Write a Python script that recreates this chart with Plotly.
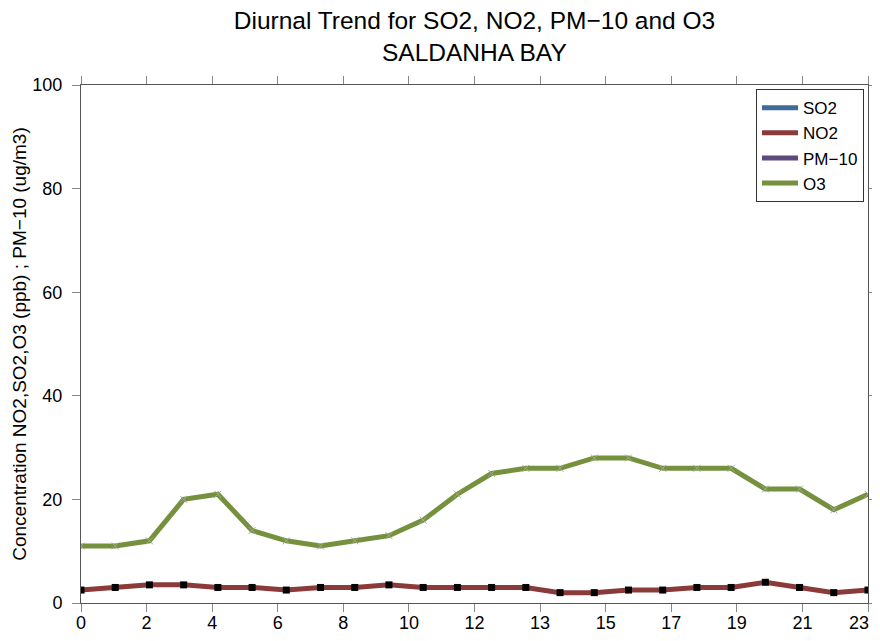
import plotly.graph_objects as go

hours = list(range(24))
tick_labels = ["0", "2", "4", "6", "8", "10", "12", "13", "15", "17", "19", "21", "23"]

so2 = [None] * 24
no2 = [2.5, 3, 3.5, 3.5, 3, 3, 2.5, 3, 3, 3.5, 3, 3,
       3, 3, 2, 2, 2.5, 2.5, 3, 3, 4, 3, 2, 2.5]
pm10 = [None] * 24
o3 = [11, 11, 12, 20, 21, 14, 12, 11, 12, 13, 16, 21,
      25, 26, 26, 28, 28, 26, 26, 26, 22, 22, 18, 21]

n_ticks = len(tick_labels)
tick_vals = [i * (len(hours) - 1) / (n_ticks - 1) for i in range(n_ticks)]

FONT = "Liberation Sans, Arial, Helvetica, sans-serif"
AX = "#555555"
TK = "#888888"

# page body has an 8px margin: figure sized to fit exactly in the 880x641 window
W, H = 864, 625
ML, MR, MT, MB = 73, 4, 77, 30
PLOT_H = H - MT - MB

fig = go.Figure()
fig.add_trace(go.Scatter(x=hours, y=so2, name="SO2", mode="lines",
                         line=dict(color="#3f6b9b", width=5)))
fig.add_trace(go.Scatter(x=hours, y=no2, name="NO2", mode="lines",
                         line=dict(color="#8b3a3a", width=5)))
fig.add_trace(go.Scatter(x=hours, y=pm10, name="PM−10", mode="lines",
                         line=dict(color="#5e4a7c", width=5)))
fig.add_trace(go.Scatter(x=hours, y=o3, name="O3", mode="lines",
                         line=dict(color="#76913e", width=5)))
# point markers (not in legend)
fig.add_trace(go.Scatter(x=hours, y=no2, mode="markers", showlegend=False,
                         marker=dict(symbol="square", size=7, color="black")))
fig.add_trace(go.Scatter(x=hours, y=o3, mode="markers", showlegend=False,
                         marker=dict(symbol="x-thin", size=7, color="#a0ab90",
                                     line=dict(width=1, color="#a0ab90"))))

# last x tick label drawn as an annotation, right-aligned so it stays inside the page
shown_ticktext = tick_labels[:-1] + [""]

fig.update_layout(
    width=W, height=H,
    margin=dict(l=ML, r=MR, t=MT, b=MB),
    paper_bgcolor="white", plot_bgcolor="white",
    font=dict(family=FONT, size=18, color="black"),
    title=dict(text="Diurnal Trend for SO2, NO2, PM−10 and O3",
               x=0.5, xref="paper", xanchor="center",
               y=1 - 12 / H, yref="container", yanchor="middle",
               font=dict(size=24.5, color="black")),
    annotations=[
        dict(text="SALDANHA BAY", x=0.5, xref="paper", xanchor="center",
             y=1 + (MT - 45) / PLOT_H, yref="paper", yanchor="middle",
             showarrow=False, font=dict(size=24.5, color="black")),
        dict(text=tick_labels[-1], x=tick_vals[-1], xref="x", xanchor="right", xshift=3,
             y=0, yref="paper", yanchor="middle", yshift=-20,
             showarrow=False, font=dict(size=18, color="black")),
    ],
    showlegend=True,
    legend=dict(x=0.8577, y=0.992, xanchor="left", yanchor="top",
                bgcolor="white", bordercolor="#333333", borderwidth=1,
                font=dict(size=17, color="black"), itemwidth=36,
                tracegroupgap=0),
    xaxis=dict(range=[0, 23], tickmode="array", tickvals=tick_vals, ticktext=shown_ticktext,
               showgrid=False, zeroline=False, showline=True, linecolor=AX, linewidth=1,
               mirror="allticks", ticks="outside", ticklen=8, tickcolor=TK,
               ticklabelstandoff=-5, automargin=False,
               tickfont=dict(size=18, color="black")),
    yaxis=dict(range=[0, 100], tickvals=[0, 20, 40, 60, 80, 100],
               showgrid=False, zeroline=False, showline=True, linecolor=AX, linewidth=1,
               mirror="allticks", ticks="outside", ticklen=8, tickcolor=TK,
               ticklabelstandoff=6, automargin=False,
               tickfont=dict(size=18, color="black"),
               title=dict(text="Concentration NO2,SO2,O3 (ppb) ; PM−10 (ug/m3)",
                          font=dict(size=19, color="black"), standoff=0)),
)

fig.write_html("out.html")
